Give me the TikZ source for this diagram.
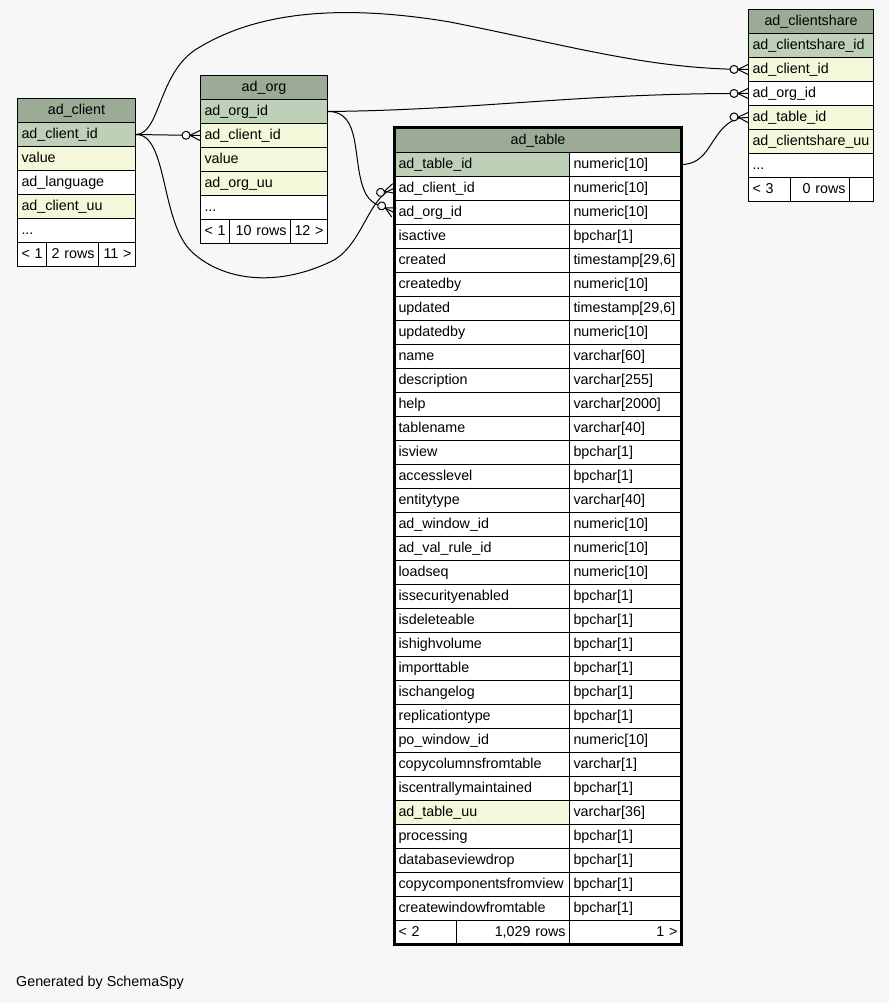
\documentclass[tikz,border=0pt]{standalone}
\usepackage{fontspec}
\setmainfont{Liberation Sans}
\usepackage{xcolor}
\definecolor{spyHead}{HTML}{9BAB96}
\definecolor{spyKey}{HTML}{BED1B8}
\definecolor{spyIdx}{HTML}{F4F7DA}
\definecolor{spyBg}{HTML}{F7F7F7}
\usepackage{tikz}
\usetikzlibrary{decorations.markings}
\newcommand{\spyfont}{\fontsize{14.3}{16}\selectfont}
\hyphenpenalty=10000
\exhyphenpenalty=10000

\tikzset{
  cell/.style={draw, rectangle, anchor=north west, fill=white, line width=1pt,
    inner xsep=4pt, inner ysep=0pt, minimum height=24pt, text width=#1,
    align=left, font=\spyfont, text height=10.5pt, text depth=3pt},
  key/.style={cell=#1, fill=spyKey},
  idx/.style={cell=#1, fill=spyIdx},
  head/.style={cell=#1, fill=spyHead, align=center},
  tally/.style={cell=#1, align=right},
  fk/.style={line width=1pt, postaction={decorate},
    decoration={markings, mark=at position 1 with {
      \draw[fill=spyBg, line width=1pt] (-14pt,0) circle (4pt);
      \draw[line width=1pt] (-10pt,0) -- (0,5pt) (-10pt,0) -- (0,-5pt);}}}
}

\begin{document}
\begin{tikzpicture}[x=1pt, y=-1pt]
  \fill[spyBg] (0,0) rectangle (889,1003);
  \useasboundingbox (0,0) rectangle (889,1003);
  % ------- ad_client -------
  \node[head=110pt] (clHead) at (17,98) {ad\_client};
  \node[key=110pt] (clId) at (17,122) {ad\_client\_id};
  \node[idx=110pt] (clValue) at (17,146) {value};
  \node[cell=110pt] (clLang) at (17,170) {ad\_language};
  \node[idx=110pt] (clUu) at (17,194) {ad\_client\_uu};
  \node[cell=110pt] (clMore) at (17,218) {...};
  \node[cell=21pt] (clPrev) at (17,242) {\mbox{<~1}};
  \node[tally=44pt] (clRows) at (46,242) {\mbox{2~rows}};
  \node[tally=29pt] (clNext) at (98,242) {\mbox{11~>}};
  % ------- ad_org -------
  \node[head=119pt] (orHead) at (200,75) {ad\_org};
  \node[key=119pt] (orId) at (200,99) {ad\_org\_id};
  \node[idx=119pt] (orClient) at (200,123) {ad\_client\_id};
  \node[idx=119pt] (orValue) at (200,147) {value};
  \node[idx=119pt] (orUu) at (200,171) {ad\_org\_uu};
  \node[cell=119pt] (orMore) at (200,195) {...};
  \node[cell=21pt] (orPrev) at (200,219) {\mbox{<~1}};
  \node[tally=53pt] (orRows) at (229,219) {\mbox{10~rows}};
  \node[tally=29pt] (orNext) at (290,219) {\mbox{12~>}};
  % ------- ad_clientshare -------
  \node[head=117pt] (csHead) at (748,9) {ad\_clientshare};
  \node[key=117pt] (csId) at (748,33) {ad\_clientshare\_id};
  \node[idx=117pt] (csClient) at (748,57) {ad\_client\_id};
  \node[cell=117pt] (csOrg) at (748,81) {ad\_org\_id};
  \node[idx=117pt] (csTable) at (748,105) {ad\_table\_id};
  \node[idx=117pt] (csUu) at (748,129) {ad\_clientshare\_uu};
  \node[cell=117pt] (csMore) at (748,153) {...};
  \node[cell=34pt] (csPrev) at (748,177) {\mbox{<~3}};
  \node[tally=51pt] (csRows) at (790,177) {\mbox{0~rows}};
  \node[tally=16pt] (csNext) at (849,177) {};
  % ------- ad_table -------
  \node[head=279pt] (tbHead) at (394,128) {ad\_table};
  \foreach \cname/\ctype/\cfill [count=\i] in {
      ad\_table\_id/numeric[10]/spyKey, ad\_client\_id/numeric[10]/white,
      ad\_org\_id/numeric[10]/white, isactive/bpchar[1]/white,
      created/{timestamp[29,6]}/white, createdby/numeric[10]/white,
      updated/{timestamp[29,6]}/white, updatedby/numeric[10]/white,
      name/varchar[60]/white, description/varchar[255]/white,
      help/varchar[2000]/white, tablename/varchar[40]/white,
      isview/bpchar[1]/white, accesslevel/bpchar[1]/white,
      entitytype/varchar[40]/white, ad\_window\_id/numeric[10]/white,
      ad\_val\_rule\_id/numeric[10]/white, loadseq/numeric[10]/white,
      issecurityenabled/bpchar[1]/white, isdeleteable/bpchar[1]/white,
      ishighvolume/bpchar[1]/white, importtable/bpchar[1]/white,
      ischangelog/bpchar[1]/white, replicationtype/bpchar[1]/white,
      po\_window\_id/numeric[10]/white, copycolumnsfromtable/varchar[1]/white,
      iscentrallymaintained/bpchar[1]/white, ad\_table\_uu/varchar[36]/spyIdx,
      processing/bpchar[1]/white, databaseviewdrop/bpchar[1]/white,
      copycomponentsfromview/bpchar[1]/white, createwindowfromtable/bpchar[1]/white} {
    \node[cell=167pt, fill=\cfill] (tbN\i) at (394,{128+24*\i}) {\cname};
    \node[cell=104pt] (tbT\i) at (569,{128+24*\i}) {\ctype};
  }
  \node[cell=54pt] (tbPrev) at (394,920) {\mbox{<~2}};
  \node[tally=105pt] (tbRows) at (456,920) {\mbox{1,029~rows}};
  \node[tally=104pt] (tbNext) at (569,920) {\mbox{1~>}};
  \draw[line width=3pt] (394,128) rectangle (681,944);
  % ------- foreign keys -------
  \draw[fk] (clId.east) -- (orClient.west);
  \draw[fk] (clId.east) .. controls (160,134) and (158,75) .. (195,50)
    .. controls (250,15) and (330,2) .. (450,22)
    .. controls (580,48) and (650,69) .. (csClient.west);
  \draw[fk] (clId.east) .. controls (168,134) and (160,222) .. (192,252)
    .. controls (222,280) and (275,288) .. (330,262)
    .. controls (362,248) and (368,196) .. (tbN2.west);
  \draw[fk] (orId.east) .. controls (362,111) and (352,160) .. (364,190)
    .. controls (370,205) and (380,205) .. (tbN3.west);
  \draw[fk] (orId.east) .. controls (480,110) and (580,93) .. (csOrg.west);
  \draw[fk] (tbT1.east) .. controls (702,164) and (708,148) .. (716,137)
    .. controls (726,122) and (736,117) .. (csTable.west);
  \node[anchor=west, font=\spyfont, inner sep=0pt] (credit) at (16,983) {Generated by SchemaSpy};
\end{tikzpicture}
\end{document}
